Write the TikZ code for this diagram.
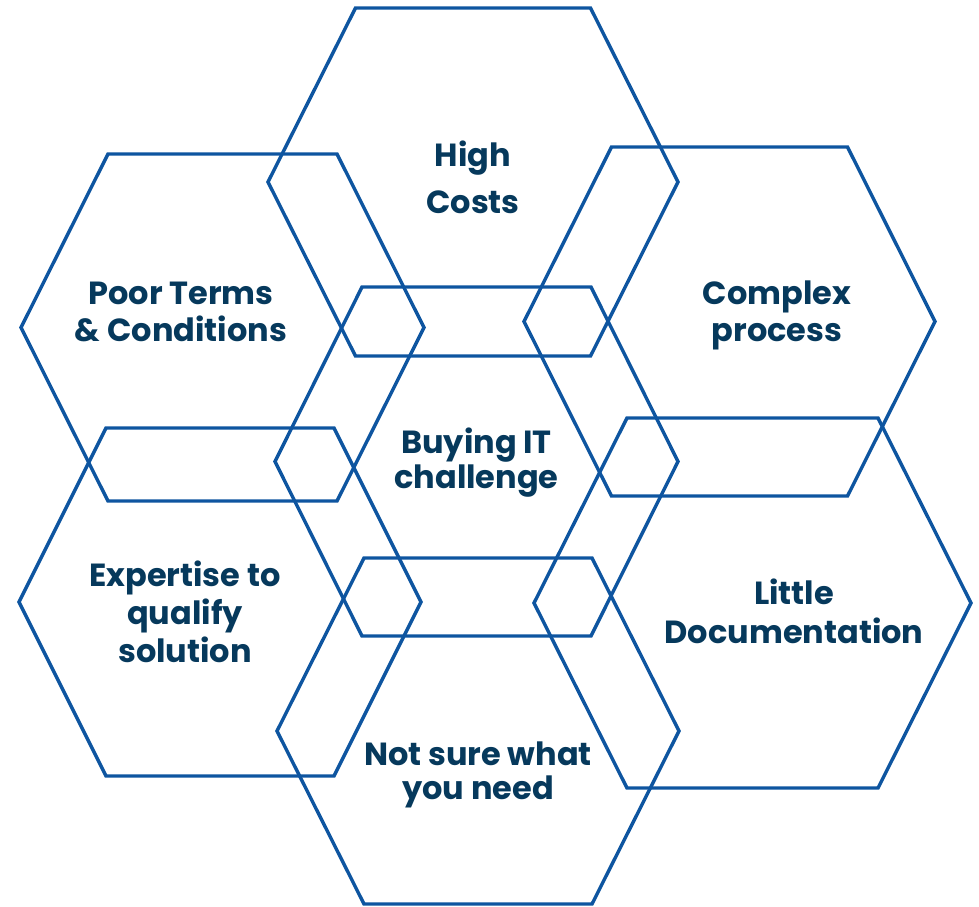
\documentclass[tikz,border=0pt]{standalone}
\usepackage{fontspec}
\newfontfamily\popfont{Poppins}[BoldFont={* Bold}]
\definecolor{hexblue}{RGB}{14,85,160}
\definecolor{labelnavy}{RGB}{6,57,92}
\newcommand\labelfont[1]{\popfont\bfseries\fontsize{32}{#1}\selectfont}
% flat-topped hexagon: left x, right x, top y, bottom y, corner inset
\newcommand\hexshape[5]{%
  \draw[hexline] (#1,{(#3+#4)/2}) -- (#1+#5,#3) -- (#2-#5,#3) -- (#2,{(#3+#4)/2})
    -- (#2-#5,#4) -- (#1+#5,#4) -- cycle;}
\tikzset{
  hexline/.style={draw=hexblue, line width=3.4pt, line join=miter},
  % labels are placed by the baseline of their last line
  lbl/.style={text=labelnavy, align=center, anchor=base, inner sep=0pt, font=\labelfont{#1}},
}
\begin{document}
\begin{tikzpicture}[x=1pt,y=-1pt]
\useasboundingbox (0,0) rectangle (979,906);
% outlines
\hexshape{268}{678}{8}{356}{87.5}
\hexshape{21}{424}{154}{501}{87}
\hexshape{524}{935}{147}{496}{87.5}
\hexshape{275}{678}{287}{636}{87}
\hexshape{19}{421}{428}{776}{87}
\hexshape{534}{971}{418}{788}{93}
\hexshape{277}{679}{558}{904}{87}
% labels
\node[lbl=46.7] (costs) at (473,213.3) {High\\Costs};
\node[lbl=37.7] (terms) at (181,341.7) {Poor Terms\\\& Conditions};
\node[lbl=37.7] (process) at (777,341.7) {Complex\\process};
\node[lbl=35] (buying) at (476.5,488.3) {Buying IT\\challenge};
\node[lbl=38] (expertise) at (185,662) {Expertise to\\qualify\\solution};
\node[lbl=39] (docs) at (794,643.3) {Little\\Documentation};
\node[lbl=33.3] (need) at (478,799) {Not sure what\\you need};
\end{tikzpicture}
\end{document}
